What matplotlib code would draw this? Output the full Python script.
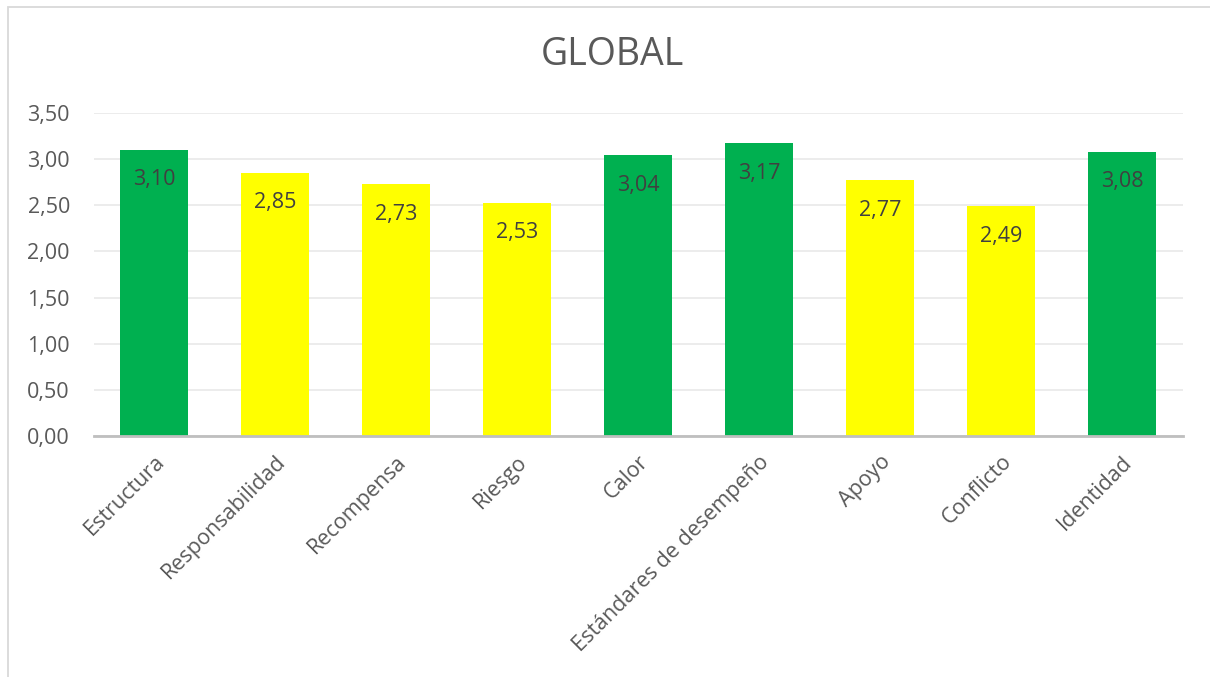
import matplotlib
matplotlib.use("Agg")
import matplotlib.pyplot as plt
from matplotlib.patches import Rectangle

categorias = ["Estructura", "Responsabilidad", "Recompensa", "Riesgo", "Calor",
              "Estándares de desempeño", "Apoyo", "Conflicto", "Identidad"]
valores = [3.10, 2.85, 2.73, 2.53, 3.04, 3.17, 2.77, 2.49, 3.08]
colores = ["#00B050", "#FFFF00", "#FFFF00", "#FFFF00", "#00B050",
           "#00B050", "#FFFF00", "#FFFF00", "#00B050"]
ticks_y = [0, 0.5, 1.0, 1.5, 2.0, 2.5, 3.0, 3.5]

plt.rcParams["font.family"] = ["Open Sans", "DejaVu Sans"]
GRIS = "#595959"

fig = plt.figure(figsize=(12.1, 6.77), dpi=100)
fig.patches.append(Rectangle((8 / 1210, -0.1), 1.2, 1 - 7 / 677 + 0.1, transform=fig.transFigure,
                             fill=False, edgecolor="#d9d9d9", linewidth=1.3))
ax = fig.add_axes([93.5 / 1210, (677 - 436) / 677, 1089 / 1210, 323 / 677])

x = range(len(categorias))
barras = ax.bar(x, valores, width=0.56, color=colores, zorder=3)
for b, v in zip(barras, valores):
    ax.annotate(f"{v:.2f}".replace(".", ","), (b.get_x() + b.get_width() / 2, v),
                xytext=(0, -14), textcoords="offset points", ha="center", va="top",
                fontsize=15.5, color="#404040", zorder=4)

ax.set_xlim(-0.5, len(categorias) - 0.5)
ax.set_ylim(0, 3.5)
ax.set_yticks(ticks_y)
ax.set_yticklabels([f"{t:.2f}".replace(".", ",") for t in ticks_y])
ax.set_xticks(list(x))
ax.set_xticklabels(categorias, rotation=45, ha="right", rotation_mode="anchor")
ax.tick_params(axis="both", length=0, labelsize=15.5, labelcolor=GRIS)
ax.tick_params(axis="y", pad=17)
ax.tick_params(axis="x", pad=11)
ax.grid(axis="y", color="#ebebeb", linewidth=1.3, zorder=0)
for s in ["top", "right", "left"]:
    ax.spines[s].set_visible(False)
ax.spines["bottom"].set_color("#bfbfbf")
ax.spines["bottom"].set_linewidth(2)
ax.spines["bottom"].set_zorder(5)

fig.text(612 / 1210, 1 - 55 / 677, "GLOBAL", ha="center", va="center", fontsize=27, color=GRIS)

fig.savefig("out.png", dpi=100)
